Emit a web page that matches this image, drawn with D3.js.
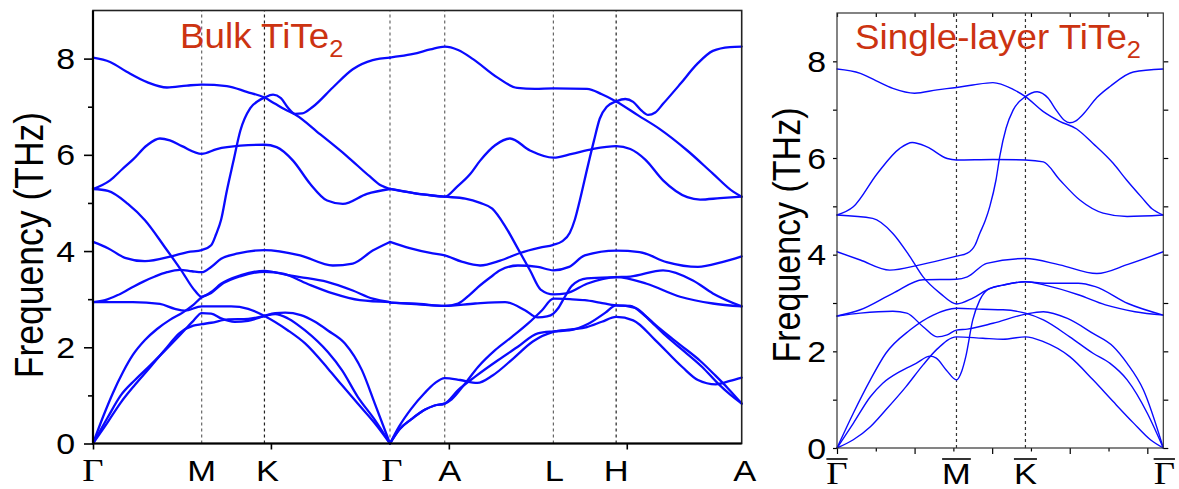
<!DOCTYPE html>
<html><head><meta charset="utf-8">
<script src="https://cdn.jsdelivr.net/npm/d3@7"></script>
<style>
body{margin:0;background:#fff;}
svg{display:block;font-family:"Liberation Sans",Arial,sans-serif;}
</style></head><body>
<svg id="chart" width="1179" height="489"></svg>
<script>
// ---------- data ----------
const yMax = 9;
const yTickLabels = [0, 2, 4, 6, 8];
const bulkYMinor = [1, 3, 5, 7];
const slabYTicks = [0, 1, 2, 3, 4, 5, 6, 7, 8];
const bulkXTicks = [0, 0.25, 0.5, 0.75];
const slabXMajor = [0, 0.1, 0.2, 0.3, 0.4];
const slabXMinor = [0.05, 0.15, 0.25, 0.35];

const bulkTitle = "Bulk TiTe";
const slabTitle = "Single-layer TiTe";
const yTitle = "Frequency (THz)";

const bulkLabels = ["Γ", "M", "K", "Γ", "A", "L", "H", "A"];
const bulkK = [0, 0.1527, 0.2409, 0.4173, 0.4942, 0.6469, 0.7351, 0.9115];
const slabLabels = ["Γ", "M", "K", "Γ"];
const slabK = [0, 0.1540, 0.2429, 0.4206];

// bulk phonon branches: [k (1/Å), frequency (THz)]
const bulkBands = [
 [[0,8.02],[0.024,7.93],[0.048,7.72],[0.076,7.51],[0.104,7.40],[0.132,7.44],[0.1527,7.46],[0.188,7.43],[0.216,7.31],[0.2409,7.19],[0.256,7.06],[0.270,6.94],[0.284,6.84],[0.319,6.43],[0.357,5.97],[0.389,5.55],[0.405,5.36],[0.4173,5.29]],
 [[0,4.19],[0.021,4.06],[0.045,3.86],[0.073,3.79],[0.110,3.89],[0.133,3.98],[0.1527,4.02],[0.166,4.12],[0.173,4.35],[0.180,4.65],[0.188,5.25],[0.197,5.85],[0.207,6.50],[0.221,6.97],[0.232,7.12],[0.2409,7.19],[0.253,7.25],[0.264,7.18],[0.274,6.98],[0.284,6.85],[0.294,6.86],[0.309,7.00],[0.337,7.40],[0.365,7.78],[0.393,7.97],[0.4173,8.02]],
 [[0,5.29],[0.024,5.47],[0.041,5.70],[0.056,5.90],[0.076,6.20],[0.094,6.34],[0.108,6.30],[0.125,6.18],[0.1527,6.02],[0.174,6.12],[0.207,6.19],[0.2409,6.21],[0.258,6.16],[0.281,5.88],[0.305,5.40],[0.329,5.05],[0.351,4.98],[0.385,5.19],[0.4173,5.29]],
 [[0,5.29],[0.021,5.25],[0.049,4.98],[0.073,4.64],[0.101,4.08],[0.124,3.60],[0.143,3.18],[0.1527,3.05],[0.166,3.15],[0.180,3.32],[0.208,3.50],[0.2409,3.59],[0.274,3.50],[0.291,3.46],[0.329,3.36],[0.365,3.18],[0.393,3.01],[0.4173,2.94]],
 [[0,0],[0.014,0.55],[0.028,1.05],[0.042,1.48],[0.056,1.84],[0.073,2.15],[0.090,2.38],[0.108,2.57],[0.126,2.72],[0.141,2.88],[0.1527,3.04],[0.166,3.13],[0.180,3.30],[0.208,3.48],[0.2409,3.57],[0.267,3.53],[0.301,3.32],[0.337,3.12],[0.375,2.98],[0.4173,2.94]],
 [[0,2.94],[0.056,2.94],[0.094,2.90],[0.115,2.80],[0.129,2.76],[0.1527,2.85],[0.194,2.85],[0.218,2.80],[0.2409,2.65],[0.274,2.35],[0.298,2.08],[0.330,1.56],[0.350,1.21],[0.372,0.83],[0.396,0.42],[0.4173,0]],
 [[0,2.94],[0.017,2.98],[0.034,3.08],[0.052,3.22],[0.070,3.36],[0.087,3.47],[0.104,3.56],[0.122,3.61],[0.139,3.58],[0.1527,3.56],[0.166,3.67],[0.180,3.84],[0.204,3.95],[0.2409,4.02],[0.291,3.91],[0.337,3.70],[0.365,3.74],[0.393,4.01],[0.4173,4.19]],
 [[0,0],[0.021,0.45],[0.039,0.85],[0.059,1.22],[0.080,1.58],[0.101,1.95],[0.122,2.30],[0.141,2.45],[0.1527,2.48],[0.166,2.51],[0.190,2.58],[0.218,2.59],[0.2409,2.65],[0.256,2.69],[0.274,2.60],[0.298,2.35],[0.330,1.90],[0.350,1.52],[0.372,0.97],[0.396,0.49],[0.4173,0]],
 [[0,0],[0.021,0.55],[0.039,1.00],[0.059,1.32],[0.080,1.62],[0.101,1.93],[0.122,2.25],[0.141,2.55],[0.1527,2.71],[0.166,2.70],[0.180,2.60],[0.199,2.53],[0.218,2.55],[0.2409,2.65],[0.256,2.71],[0.270,2.72],[0.292,2.67],[0.312,2.53],[0.330,2.35],[0.354,2.08],[0.378,1.52],[0.396,0.83],[0.4173,0]],
 [[0.4173,8.02],[0.431,8.05],[0.450,8.10],[0.474,8.19],[0.4942,8.25],[0.513,8.18],[0.534,7.99],[0.568,7.61],[0.596,7.39],[0.621,7.37],[0.6469,7.38],[0.694,7.37],[0.715,7.26],[0.7351,7.11],[0.766,6.82],[0.796,6.54],[0.835,6.09],[0.871,5.61],[0.899,5.24],[0.9115,5.13]],
 [[0.4173,4.19],[0.445,4.06],[0.474,3.96],[0.4942,3.91],[0.518,3.78],[0.544,3.70],[0.572,3.80],[0.600,3.96],[0.628,4.07],[0.6469,4.13],[0.659,4.20],[0.670,4.38],[0.677,4.65],[0.684,5.05],[0.695,5.75],[0.704,6.30],[0.712,6.75],[0.722,7.00],[0.7351,7.11],[0.748,7.16],[0.759,7.10],[0.770,6.93],[0.780,6.83],[0.790,6.88],[0.801,7.06],[0.825,7.47],[0.849,7.89],[0.871,8.16],[0.895,8.24],[0.9115,8.25]],
 [[0.4173,5.29],[0.445,5.22],[0.474,5.16],[0.4942,5.13],[0.511,5.33],[0.530,5.60],[0.544,5.88],[0.565,6.20],[0.586,6.34],[0.614,6.09],[0.6469,5.94],[0.673,6.02],[0.702,6.12],[0.7351,6.18],[0.755,6.12],[0.776,5.90],[0.801,5.47],[0.835,5.12],[0.853,5.07],[0.881,5.10],[0.9115,5.13]],
 [[0.4173,5.29],[0.452,5.20],[0.4942,5.13],[0.523,5.09],[0.544,5.00],[0.561,4.88],[0.579,4.52],[0.597,4.05],[0.614,3.60],[0.629,3.20],[0.6469,3.10],[0.665,3.12],[0.694,3.32],[0.7351,3.46],[0.778,3.32],[0.825,3.05],[0.871,2.91],[0.9115,2.85]],
 [[0.4173,2.93],[0.452,2.90],[0.4942,2.86],[0.513,2.91],[0.530,3.10],[0.541,3.25],[0.558,3.45],[0.572,3.60],[0.597,3.70],[0.625,3.67],[0.6469,3.60],[0.669,3.67],[0.691,3.91],[0.7351,4.01],[0.768,3.98],[0.806,3.77],[0.850,3.67],[0.884,3.77],[0.9115,3.89]],
 [[0.4173,2.93],[0.459,2.90],[0.4942,2.86],[0.537,2.91],[0.579,2.94],[0.607,2.77],[0.625,2.62],[0.638,2.64],[0.6469,2.70],[0.653,2.80],[0.663,3.05],[0.673,3.28],[0.694,3.43],[0.7351,3.46],[0.755,3.47],[0.801,3.60],[0.843,3.39],[0.871,3.12],[0.9115,2.85]],
 [[0.4173,0],[0.431,0.30],[0.447,0.50],[0.466,0.70],[0.480,0.79],[0.4942,0.83],[0.504,0.92],[0.523,1.25],[0.541,1.59],[0.565,1.94],[0.589,2.22],[0.611,2.49],[0.631,2.77],[0.6469,3.01],[0.670,3.00],[0.691,2.98],[0.712,2.93],[0.7351,2.87],[0.755,2.86],[0.776,2.65],[0.797,2.38],[0.825,2.05],[0.853,1.72],[0.874,1.42],[0.892,1.15],[0.9115,0.83]],
 [[0.4173,0],[0.431,0.30],[0.447,0.50],[0.466,0.70],[0.480,0.79],[0.4942,0.83],[0.513,1.11],[0.537,1.39],[0.569,1.73],[0.597,2.01],[0.625,2.29],[0.6469,2.33],[0.669,2.35],[0.696,2.49],[0.720,2.72],[0.7351,2.87],[0.762,2.82],[0.783,2.55],[0.804,2.25],[0.832,1.90],[0.856,1.59],[0.878,1.25],[0.895,1.02],[0.9115,0.83]],
 [[0.4173,0],[0.430,0.35],[0.447,0.72],[0.466,1.05],[0.480,1.25],[0.4942,1.36],[0.516,1.32],[0.540,1.26],[0.562,1.42],[0.590,1.76],[0.618,2.12],[0.6469,2.32],[0.672,2.37],[0.694,2.42],[0.715,2.53],[0.7351,2.63],[0.759,2.56],[0.790,2.15],[0.828,1.59],[0.850,1.32],[0.875,1.23],[0.895,1.30],[0.9115,1.37]]
];

// single-layer phonon branches: [k (1/Å), frequency (THz)]
const slabBands = [
 [[0,7.84],[0.030,7.75],[0.050,7.60],[0.072,7.44],[0.100,7.34],[0.129,7.41],[0.154,7.46],[0.175,7.51],[0.201,7.56],[0.227,7.42],[0.2429,7.27],[0.266,6.96],[0.287,6.76],[0.309,6.60],[0.330,6.30],[0.356,5.89],[0.373,5.55],[0.393,5.18],[0.406,4.95],[0.4206,4.82]],
 [[0,4.06],[0.030,3.89],[0.068,3.68],[0.107,3.79],[0.154,3.97],[0.168,4.03],[0.178,4.20],[0.184,4.44],[0.191,4.70],[0.197,5.00],[0.205,5.55],[0.210,6.05],[0.218,6.62],[0.227,6.99],[0.2429,7.27],[0.258,7.37],[0.272,7.24],[0.283,6.98],[0.293,6.78],[0.300,6.73],[0.308,6.77],[0.317,6.90],[0.335,7.25],[0.352,7.48],[0.382,7.78],[0.4206,7.84]],
 [[0,4.82],[0.021,4.99],[0.052,5.68],[0.081,6.20],[0.097,6.32],[0.116,6.23],[0.142,5.99],[0.154,5.96],[0.201,5.97],[0.2429,5.96],[0.266,5.92],[0.287,5.55],[0.313,5.13],[0.343,4.86],[0.374,4.79],[0.4206,4.82]],
 [[0,4.82],[0.046,4.75],[0.072,4.44],[0.094,3.96],[0.111,3.54],[0.133,3.20],[0.154,2.98],[0.175,3.10],[0.197,3.30],[0.214,3.37],[0.2429,3.44],[0.268,3.41],[0.311,3.41],[0.333,3.34],[0.375,2.99],[0.4206,2.75]],
 [[0,2.73],[0.030,2.86],[0.072,3.20],[0.111,3.48],[0.154,3.49],[0.168,3.54],[0.193,3.82],[0.2429,3.92],[0.287,3.79],[0.335,3.61],[0.375,3.80],[0.4206,4.06]],
 [[0,2.73],[0.030,2.79],[0.072,2.83],[0.090,2.79],[0.111,2.51],[0.129,2.30],[0.142,2.34],[0.154,2.44],[0.168,2.46],[0.201,2.58],[0.2429,2.77],[0.266,2.82],[0.297,2.68],[0.330,2.37],[0.356,2.10],[0.374,1.75],[0.395,1.20],[0.4206,0]],
 [[0,0],[0.021,0.72],[0.043,1.41],[0.063,1.96],[0.094,2.44],[0.124,2.75],[0.154,2.89],[0.188,2.87],[0.214,2.86],[0.2429,2.79],[0.266,2.65],[0.300,2.30],[0.330,1.96],[0.352,1.75],[0.374,1.41],[0.400,0.72],[0.4206,0]],
 [[0,0],[0.021,0.51],[0.043,1.06],[0.059,1.34],[0.081,1.58],[0.102,1.75],[0.120,1.90],[0.128,1.86],[0.141,1.61],[0.154,1.41],[0.161,1.60],[0.166,1.89],[0.175,2.65],[0.184,3.06],[0.197,3.30],[0.214,3.37],[0.2429,3.44],[0.268,3.37],[0.311,3.17],[0.346,2.96],[0.384,2.82],[0.4206,2.75]],
 [[0,0],[0.021,0.17],[0.043,0.44],[0.063,0.79],[0.089,1.27],[0.111,1.72],[0.128,2.03],[0.154,2.30],[0.188,2.27],[0.214,2.25],[0.2429,2.30],[0.266,2.20],[0.300,1.89],[0.330,1.41],[0.356,0.96],[0.382,0.52],[0.404,0.17],[0.4206,0]]
];

// ---------- drawing ----------
const svg = d3.select("#chart");
const blue = "#0a0aff";
const titleColor = "#cc3311";

function addText(g, x, y, s, o) {
  const t = g.append("text")
    .attr("transform", `translate(${x},${y}) scale(${o.sx || 1},1)` + (o.rot ? ` rotate(${o.rot})` : ""))
    .attr("text-anchor", o.anchor || "middle")
    .attr("font-size", o.size)
    .attr("fill", o.fill || "#000")
    .style("font-family", o.family || "'Liberation Sans', Arial, sans-serif")
    .text(s);
  return t;
}

function drawPanel(p) {
  const g = svg.append("g");
  const x = d3.scaleLinear().domain([0, p.kPos[p.kPos.length - 1]]).range([p.left, p.right]);
  const y = d3.scaleLinear().domain([0, yMax]).range([p.bottom, p.top]);

  // dotted high-symmetry lines
  p.kPos.slice(1, -1).forEach((k, i) => {
    g.append("line")
      .attr("x1", x(k)).attr("x2", x(k)).attr("y1", y(0)).attr("y2", y(yMax))
      .attr("stroke", p.dashColors[i]).attr("stroke-width", 1.2)
      .attr("stroke-dasharray", "3,3");
  });

  // phonon branches
  const line = d3.line().x(d => x(d[0])).y(d => y(d[1])).curve(d3.curveMonotoneX);
  g.append("g").selectAll("path").data(p.bands).join("path")
    .attr("d", line).attr("fill", "none").attr("stroke", blue)
    .attr("stroke-width", p.lw).attr("stroke-linejoin", "round").attr("stroke-linecap", "round");

  // axes ticks
  const styleAxis = sel => {
    sel.select(".domain").remove();
    sel.selectAll("line").attr("stroke", "#000").attr("stroke-width", p.tickW);
    sel.selectAll("text").remove();
  };
  p.axes(g, x, y, styleAxis);

  // frame
  g.append("rect").attr("x", p.left).attr("y", y(yMax))
    .attr("width", p.right - p.left).attr("height", y(0) - y(yMax))
    .attr("fill", "none").attr("stroke", p.frameColor).attr("stroke-width", p.frameW);
  if (p.axisW) {
    g.append("line").attr("x1", p.left).attr("x2", p.left).attr("y1", y(yMax)).attr("y2", y(0))
      .attr("stroke", "#000").attr("stroke-width", p.axisW);
    g.append("line").attr("x1", p.left - 1).attr("x2", p.right).attr("y1", y(0)).attr("y2", y(0))
      .attr("stroke", "#000").attr("stroke-width", p.axisW);
  }

  // y tick labels
  yTickLabels.forEach(v => {
    addText(g, p.labelX, y(v) + 0.36 * 29.5, String(v), { size: 29.5, sx: 1.15, anchor: "end" });
  });

  // y title
  addText(g, p.yTitleX, p.yTitleY, yTitle, { size: p.yTitleSize, sx: 1.12, rot: -90 });

  // x labels
  p.kPos.forEach((k, i) => {
    const s = p.labels[i];
    const serif = s === "Γ";
    const cx = x(k) + (p.labelDx ? p.labelDx[i] : 0);
    const t = addText(g, cx, p.labelY, s, {
      size: serif ? 32 : 30, sx: 1.15,
      family: serif ? "'Liberation Serif', 'Times New Roman', serif" : null
    });
    if (p.bar) {
      const w = t.node().getComputedTextLength() * 1.15;
      g.append("line").attr("x1", cx - w / 2).attr("x2", cx + w / 2)
        .attr("y1", p.barY).attr("y2", p.barY).attr("stroke", "#000").attr("stroke-width", 1.6);
    }
  });

  // title
  const tt = g.append("text")
    .attr("transform", `translate(${p.titleX},${p.titleY}) scale(1.06,1)`)
    .attr("font-size", 34.7).attr("fill", titleColor).text(p.title);
  tt.append("tspan").attr("font-size", 24).attr("dy", 9).text("2");
}

drawPanel({
  left: 93, right: 741.7, top: 10.5, bottom: 443.5,
  kPos: bulkK, labels: bulkLabels, bands: bulkBands, lw: 2.3,
  dashColors: ["#666", "#222", "#666", "#666", "#666", "#222"],
  tickW: 1.6, frameW: 1.6, frameColor: "#222", axisW: 2.2,
  labelX: 75, yTitleX: 43, yTitleY: 245, yTitleSize: 35.5,
  labelY: 481, labelDx: [0, 0, 3, 2, 5, 1, 0, 3], bar: false,
  title: bulkTitle, titleX: 180, titleY: 48,
  axes: (g, x, y, st) => {
    g.append("g").attr("transform", `translate(93,0)`)
      .call(d3.axisLeft(y).tickValues(yTickLabels).tickSize(9)).call(st);
    g.append("g").attr("transform", `translate(93,0)`)
      .call(d3.axisLeft(y).tickValues(bulkYMinor).tickSize(5)).call(st);
    g.append("g").attr("transform", `translate(0,${y(0)})`)
      .call(d3.axisBottom(x).tickValues(bulkXTicks).tickSize(6)).call(st);
  }
});

drawPanel({
  left: 837, right: 1163.3, top: 13, bottom: 448,
  kPos: slabK, labels: slabLabels, bands: slabBands, lw: 1.4,
  dashColors: ["#333", "#333"],
  tickW: 1.2, frameW: 1.2, frameColor: "#333", axisW: 0,
  labelX: 826, yTitleX: 800, yTitleY: 235, yTitleSize: 34,
  labelY: 484, labelDx: [0, 0, 0, 1], bar: true, barY: 459,
  title: slabTitle, titleX: 855, titleY: 49,
  axes: (g, x, y, st) => {
    g.append("g").attr("transform", `translate(837,0)`)
      .call(d3.axisLeft(y).tickValues(slabYTicks).tickSize(4)).call(st);
    g.append("g").attr("transform", `translate(1163.3,0)`)
      .call(d3.axisLeft(y).tickValues(slabYTicks).tickSize(-5)).call(st);
    g.append("g").attr("transform", `translate(0,${y(0)})`)
      .call(d3.axisBottom(x).tickValues(slabXMajor).tickSize(6)).call(st);
    g.append("g").attr("transform", `translate(0,${y(0)})`)
      .call(d3.axisBottom(x).tickValues(slabXMinor).tickSize(3.5)).call(st);
    g.append("g").attr("transform", `translate(0,${y(yMax)})`)
      .call(d3.axisBottom(x).tickValues(slabXMajor.concat(slabXMinor)).tickSize(4)).call(st);
  }
});
</script>
</body></html>
